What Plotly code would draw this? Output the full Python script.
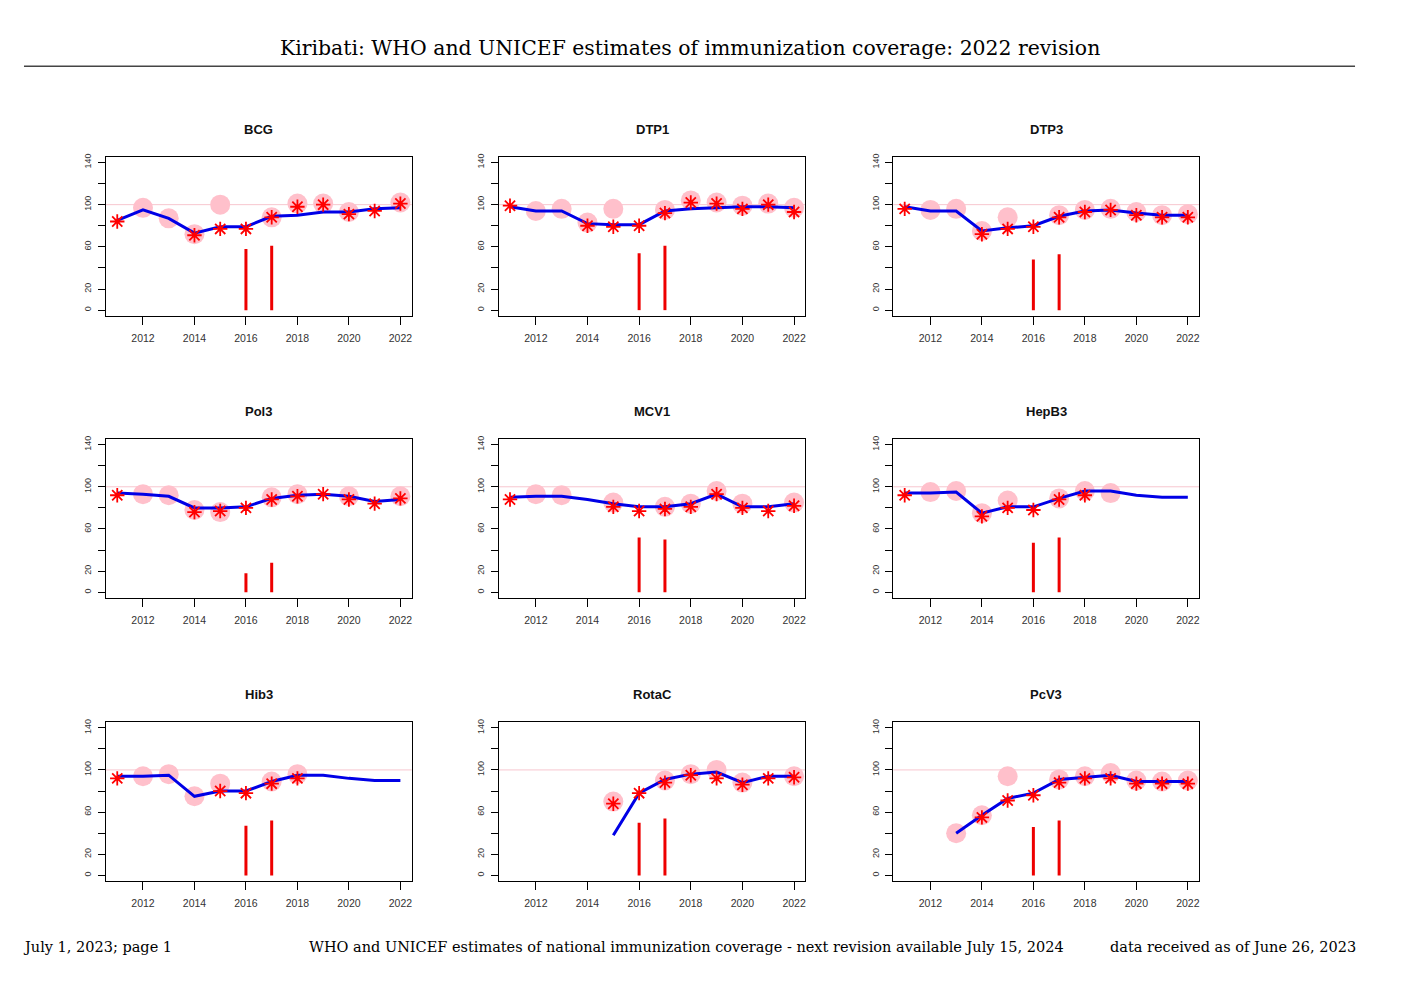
import plotly.graph_objects as go

W, H = 1403, 992

years = list(range(2011, 2023))
bar_years = [2016, 2017]

vaccines = ["BCG", "DTP1", "DTP3", "Pol3", "MCV1", "HepB3", "Hib3", "RotaC", "PcV3"]

# blue line: WUENIC estimate
bcg_wuenic = [85, 95, 87, 73, 79, 79, 89, 90, 93, 93, 96, 97]
dtp1_wuenic = [98, 94, 94, 82, 81, 81, 94, 96, 97, 98, 98, 97]
dtp3_wuenic = [98, 94, 94, 75, 78, 80, 89, 94, 95, 92, 90, 90]
pol3_wuenic = [94, 93, 91, 80, 80, 81, 89, 92, 93, 91, 86, 88]
mcv1_wuenic = [90, 91, 91, 88, 84, 81, 81, 84, 93, 81, 81, 84]
hepb3_wuenic = [94, 94, 95, 75, 81, 81, 89, 96, 96, 92, 90, 90]
hib3_wuenic = [94, 94, 95, 75, 80, 80, 89, 95, 95, 92, 90, 90]
rotac_wuenic = [None, None, None, None, 38, 78, 91, 96, 98, 88, 94, 94]
pcv3_wuenic = [None, None, 40, 57, 73, 78, 91, 93, 95, 89, 89, 89]

# pink circles
bcg_circle = [None, 97, 87, 72, 100, None, 88, 101, 101, 93, None, 102]
dtp1_circle = [None, 94, 96, 83, 96, None, 95, 104, 102, 99, 101, 97]
dtp3_circle = [None, 95, 96, 75, 88, None, 90, 95, 96, 93, 90, 91]
pol3_circle = [None, 93, 92, 78, 76, None, 90, 93, None, 91, None, 91]
mcv1_circle = [None, 93, 92, None, 85, None, 81, 84, 96, 84, None, 85]
hepb3_circle = [None, 95, 96, 75, 87, None, 89, 96, 94, None, None, None]
hib3_circle = [None, 94, 96, 75, 87, None, 89, 96, None, None, None, None]
rotac_circle = [None, None, None, None, 70, None, 90, 96, 100, 88, None, 94]
pcv3_circle = [None, None, 40, 57, 94, None, 91, 94, 97, 90, 89, 90]

# red asterisks
bcg_star = [84, None, None, 71, 77, 77, 88, 98, 100, 91, 94, 101]
dtp1_star = [99, None, None, 80, 79, 80, 92, 102, 101, 96, 100, 93]
dtp3_star = [96, None, None, 72, 77, 79, 88, 93, 95, 90, 88, 88]
pol3_star = [92, None, None, 76, 77, 80, 88, 91, 93, 88, 84, 89]
mcv1_star = [88, None, None, None, 81, 77, 79, 81, 93, 80, 77, 82]
hepb3_star = [92, None, None, 72, 80, 78, 88, 92, None, None, None, None]
hib3_star = [92, None, None, None, 80, 78, 87, 92, None, None, None, None]
rotac_star = [None, None, None, None, 68, 78, 88, 95, 92, 86, 92, 93]
pcv3_star = [None, None, None, 55, 71, 76, 88, 92, 92, 87, 87, 87]

# red vertical bars (2016, 2017)
bcg_bar = [58, 61]
dtp1_bar = [54, 61]
dtp3_bar = [48, 53]
pol3_bar = [18, 28]
mcv1_bar = [52, 50]
hepb3_bar = [47, 52]
hib3_bar = [47, 52]
rotac_bar = [50, 54]
pcv3_bar = [46, 52]

x_ticks = [2012, 2014, 2016, 2018, 2020, 2022]
y_ticks = [0, 20, 40, 60, 80, 100, 120, 140]
y_ticktext = ["0", "20", "", "60", "", "100", "", "140"]

wuenic = [bcg_wuenic, dtp1_wuenic, dtp3_wuenic, pol3_wuenic, mcv1_wuenic,
          hepb3_wuenic, hib3_wuenic, rotac_wuenic, pcv3_wuenic]
circles = [bcg_circle, dtp1_circle, dtp3_circle, pol3_circle, mcv1_circle,
           hepb3_circle, hib3_circle, rotac_circle, pcv3_circle]
stars = [bcg_star, dtp1_star, dtp3_star, pol3_star, mcv1_star,
         hepb3_star, hib3_star, rotac_star, pcv3_star]
bars = [bcg_bar, dtp1_bar, dtp3_bar, pol3_bar, mcv1_bar,
        hepb3_bar, hib3_bar, rotac_bar, pcv3_bar]

col_px = [(106, 412), (499, 806), (894, 1200)]
row_px = [(154, 314), (437, 597), (721, 881)]
title_px = [127, 410, 694]


def px_x(p):
    return p / W


def px_y(p):
    return 1 - p / H


fig = go.Figure()
annotations = []
shapes = []

for i, name in enumerate(vaccines):
    r, c = divmod(i, 3)
    x0, x1 = col_px[c]
    y0, y1 = row_px[r]
    n = "" if i == 0 else str(i + 1)
    xa, ya = "x" + n, "y" + n

    fig.add_trace(go.Scatter(
        x=[years[0] - 1, years[-1] + 1], y=[100, 100], mode="lines",
        line=dict(color="#F7C6CF", width=1), xaxis=xa, yaxis=ya,
        showlegend=False, hoverinfo="skip"))

    bx, by = [], []
    for yr, v in zip(bar_years, bars[i]):
        bx += [yr, yr, None]
        by += [0, v, None]
    fig.add_trace(go.Scatter(
        x=bx, y=by, mode="lines", line=dict(color="#EE0000", width=3),
        xaxis=xa, yaxis=ya, showlegend=False))

    fig.add_trace(go.Scatter(
        x=years, y=circles[i], mode="markers",
        marker=dict(color="#FFC0CB", size=20, line=dict(width=0)),
        xaxis=xa, yaxis=ya, showlegend=False))

    fig.add_trace(go.Scatter(
        x=years, y=wuenic[i], mode="lines",
        line=dict(color="#0000E6", width=3),
        xaxis=xa, yaxis=ya, showlegend=False, connectgaps=False))

    fig.add_trace(go.Scatter(
        x=years, y=stars[i], mode="markers",
        marker=dict(symbol="asterisk-open", size=12, color="#FF0000",
                    line=dict(color="#FF0000", width=1.8)),
        xaxis=xa, yaxis=ya, showlegend=False))

    axis_common = dict(showgrid=False, zeroline=False, showline=True,
                       linecolor="black", linewidth=1, mirror=True,
                       ticks="outside", tickcolor="black", tickwidth=1)
    fig.layout["xaxis" + n] = dict(
        axis_common, domain=[px_x(x0), px_x(x1)], anchor=ya,
        range=[2010.56, 2022.44], tickvals=x_ticks, ticklen=8,
        ticklabelstandoff=4,
        tickfont=dict(family="Liberation Sans, Arial", size=10.5, color="#333"))
    fig.layout["yaxis" + n] = dict(
        axis_common, domain=[px_y(y1), px_y(y0)], anchor=xa,
        range=[-5.6, 145.6], tickvals=y_ticks, ticktext=y_ticktext,
        ticklen=7, tickangle=-90, ticklabelstandoff=3,
        tickfont=dict(family="Liberation Sans, Arial", size=9, color="#333"))

    annotations.append(dict(
        text="<b>%s</b>" % name, x=px_x((x0 + x1) / 2), y=px_y(title_px[r]),
        xref="paper", yref="paper", xanchor="center", yanchor="middle",
        showarrow=False,
        font=dict(family="Liberation Sans, Arial", size=13, color="#111")))

serif = "DejaVu Serif, Liberation Serif, serif"
annotations.append(dict(
    text="Kiribati: WHO and UNICEF estimates of immunization coverage: 2022 revision",
    x=px_x(690), y=px_y(45), xref="paper", yref="paper",
    xanchor="center", yanchor="middle", showarrow=False,
    font=dict(family=serif, size=20.4, color="black")))
annotations.append(dict(
    text="July 1, 2023; page 1", x=px_x(21), y=px_y(947), xref="paper",
    yref="paper", xanchor="left", yanchor="middle", showarrow=False,
    font=dict(family=serif, size=14.5, color="black")))
annotations.append(dict(
    text="WHO and UNICEF estimates of national immunization coverage - next revision available July 15, 2024",
    x=px_x(687), y=px_y(947), xref="paper", yref="paper",
    xanchor="center", yanchor="middle", showarrow=False,
    font=dict(family=serif, size=14.5, color="black")))
annotations.append(dict(
    text="data received as of June 26, 2023", x=px_x(1359), y=px_y(947),
    xref="paper", yref="paper", xanchor="right", yanchor="middle",
    showarrow=False, font=dict(family=serif, size=14.5, color="black")))

shapes.append(dict(type="line", xref="paper", yref="paper",
                   x0=px_x(24), x1=px_x(1356), y0=px_y(63.5), y1=px_y(63.5),
                   line=dict(color="#444", width=1.5)))

fig.update_layout(
    width=W, height=H, margin=dict(l=0, r=0, t=0, b=0),
    paper_bgcolor="white", plot_bgcolor="white",
    annotations=annotations, shapes=shapes, showlegend=False)

fig.write_html("out.html")
